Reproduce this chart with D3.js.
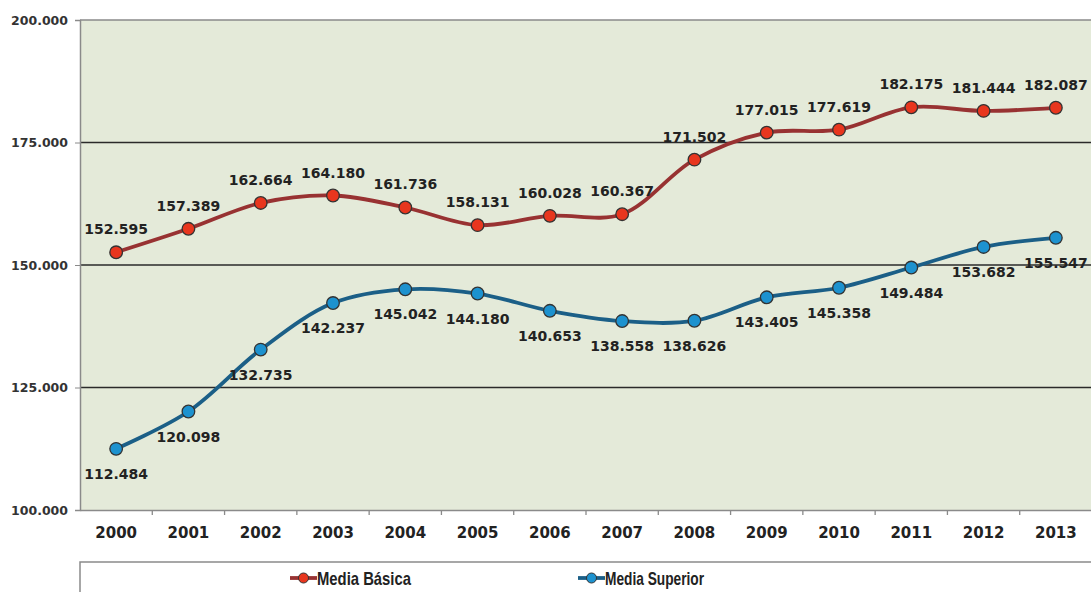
<!DOCTYPE html>
<meta charset="utf-8">
<head>
  <title>Media Básica / Media Superior</title>
  <style>
    body { margin: 0; background: #fff; font-family: "DejaVu Sans", Verdana, sans-serif; }
    .val { font-family: "DejaVu Sans", Verdana, sans-serif; font-size: 14px; font-weight: bold; fill: #222; }
    .ytick { font-family: "DejaVu Sans", Verdana, sans-serif; font-size: 12.5px; font-weight: bold; fill: #333; }
    .xtick { font-family: "DejaVu Sans", Verdana, sans-serif; font-size: 15px; font-weight: bold; fill: #222; }
    .leg { font-family: "Liberation Sans Narrow", "Arial Narrow", "Liberation Sans", sans-serif; font-size: 19px; font-weight: bold; fill: #222; }
  </style>
  <script src="https://d3js.org/d3.v7.min.js"></script>
</head>
<body>
<svg id="chart" width="1091" height="592"></svg>
<script>
var years = [2000, 2001, 2002, 2003, 2004, 2005, 2006, 2007, 2008, 2009, 2010, 2011, 2012, 2013];
var basica = [152595, 157389, 162664, 164180, 161736, 158131, 160028, 160367, 171502, 177015, 177619, 182175, 181444, 182087];
var superior = [112484, 120098, 132735, 142237, 145042, 144180, 140653, 138558, 138626, 143405, 145358, 149484, 153682, 155547];
var yTicks = [100000, 125000, 150000, 175000, 200000];

var svg = d3.select('#chart');
var plotL = 80, plotR = 1092, plotT = 20, plotB = 510;

var x = d3.scaleBand().domain(years).range([plotL, plotR]);
var y = d3.scaleLinear().domain([100000, 200000]).range([plotB, plotT]);
var fmt = d3.formatLocale({ decimal: ',', thousands: '.', grouping: [3], currency: ['', ''] }).format(',d');

// plot background
svg.append('rect').attr('x', plotL).attr('y', plotT)
  .attr('width', plotR - plotL).attr('height', plotB - plotT)
  .attr('fill', '#e4ead9');

// grid lines
svg.selectAll('.grid').data(yTicks.slice(1)).enter().append('line')
  .attr('x1', plotL).attr('x2', plotR)
  .attr('y1', function(d) { return y(d); }).attr('y2', function(d) { return y(d); })
  .attr('stroke', function(d) { return d === 200000 ? '#8a8a8a' : '#2a2a2a'; })
  .attr('stroke-width', 1.3);

// y axis
var yAxis = svg.append('g').attr('transform', 'translate(' + plotL + ',0)')
  .call(d3.axisLeft(y).tickValues(yTicks).tickSize(5).tickPadding(7).tickFormat(fmt));
yAxis.select('.domain').attr('stroke', '#8a8a8a').attr('stroke-width', 1.5);
yAxis.selectAll('.tick line').attr('stroke', '#8a8a8a');
yAxis.selectAll('.tick text').attr('class', 'ytick').attr('fill', null);

// x axis
var xAxis = svg.append('g').attr('transform', 'translate(0,' + plotB + ')')
  .call(d3.axisBottom(x).tickSize(0).tickPadding(17));
xAxis.select('.domain').attr('stroke', '#8a8a8a').attr('stroke-width', 1.5);
xAxis.selectAll('.tick text').attr('class', 'xtick').attr('fill', null);
svg.selectAll('.xsep').data(years.slice(1)).enter().append('line')
  .attr('x1', function(d) { return x(d); }).attr('x2', function(d) { return x(d); })
  .attr('y1', plotB).attr('y2', plotB + 5)
  .attr('stroke', '#8a8a8a').attr('stroke-width', 1.3);

var cx = function(d, i) { return x(years[i]) + x.bandwidth() / 2; };
var line = d3.line().x(cx).y(function(d) { return y(d); }).curve(d3.curveCatmullRom.alpha(0.5));

var series = [
  { name: 'Media Básica', values: basica, line: '#983232', fill: '#e8361e', dy: -22, legW: 94 },
  { name: 'Media Superior', values: superior, line: '#1b5f87', fill: '#1d92cf', dy: 26, legW: 99 }
];

series.forEach(function(s) {
  var g = svg.append('g');
  g.append('path').datum(s.values).attr('d', line)
    .attr('fill', 'none').attr('stroke', s.line).attr('stroke-width', 3.8);
  g.selectAll('circle').data(s.values).enter().append('circle')
    .attr('cx', cx).attr('cy', function(d) { return y(d); }).attr('r', 6.3)
    .attr('fill', s.fill).attr('stroke', '#333').attr('stroke-width', 1.3);
  g.selectAll('text').data(s.values).enter().append('text')
    .attr('class', 'val')
    .attr('x', cx).attr('y', function(d) { return y(d) + s.dy; })
    .attr('text-anchor', 'middle').attr('dominant-baseline', 'middle')
    .text(fmt);
});

// legend
svg.append('rect').attr('x', 80).attr('y', 562).attr('width', 1020).attr('height', 60)
  .attr('fill', '#fff').attr('stroke', '#8a8a8a').attr('stroke-width', 1.5);
var legX = [290, 578];
series.forEach(function(s, i) {
  var g = svg.append('g').attr('transform', 'translate(' + legX[i] + ',578)');
  g.append('line').attr('x1', 0).attr('x2', 27).attr('stroke', s.line).attr('stroke-width', 3.8);
  g.append('circle').attr('cx', 13.5).attr('r', 5).attr('fill', s.fill).attr('stroke', '#333');
  g.append('text').attr('class', 'leg').attr('x', 27).attr('dy', '0.35em')
    .attr('textLength', s.legW).attr('lengthAdjust', 'spacingAndGlyphs').text(s.name);
});
</script>
</body>
</html>
